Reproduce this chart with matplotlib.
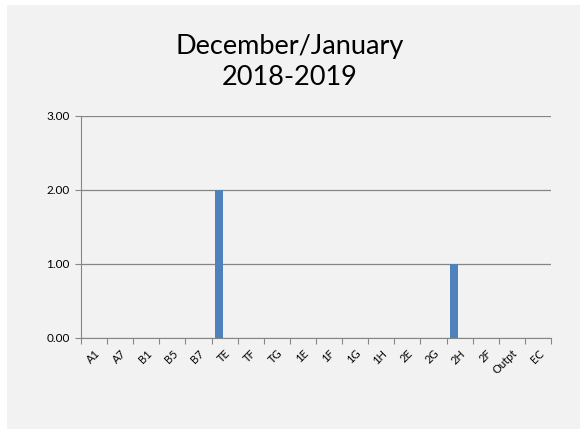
import matplotlib.pyplot as plt
import numpy as np
from matplotlib.patches import Rectangle

categories = ["A1", "A7", "B1", "B5", "B7", "TE", "TF", "TG", "1E", "1F",
              "1G", "1H", "2E", "2G", "2H", "2F", "Outpt", "EC"]
values = [0, 0, 0, 0, 0, 2, 0, 0, 0, 0, 0, 0, 0, 0, 1, 0, 0, 0]
yticks = [0, 1, 2, 3]

plt.rcParams["font.family"] = ["Lato", "DejaVu Sans"]

fig = plt.figure(figsize=(5.8, 4.29), dpi=100)
fig.patch.set_facecolor("white")
fig.patches.append(Rectangle((7 / 580, 0), 1, 1 - 5 / 429, transform=fig.transFigure,
                             facecolor="#f2f2f2", edgecolor="none", zorder=-10))

ax = fig.add_axes([81 / 580, 1 - 338 / 429, (551 - 81) / 580, (338 - 116) / 429])
ax.set_facecolor("none")

x = np.arange(len(categories))
ax.bar(x - 0.23, values, width=0.3, color="#4f81bd", zorder=3)

ax.set_xlim(-0.5, len(categories) - 0.5)
ax.set_ylim(0, 3)
ax.set_yticks(yticks)
ax.set_yticklabels([f"{v:.2f}" for v in yticks], fontsize=8.5)
ax.set_xticks(np.arange(len(categories) + 1) - 0.5, minor=False)
ax.set_xticklabels([])
ax.set_xticks(x, minor=True)
ax.set_xticklabels(categories, minor=True, rotation=45, ha="right",
                   rotation_mode="anchor", fontsize=8)
ax.tick_params(axis="x", which="minor", length=0, pad=7)
ax.tick_params(axis="x", which="major", length=4, color="#868686", direction="out")
ax.tick_params(axis="y", length=4, color="#868686", direction="out", pad=4)
ax.grid(axis="y", color="#868686", lw=0.9, zorder=1)
for side in ["top", "right"]:
    ax.spines[side].set_visible(False)
for side in ["left", "bottom"]:
    ax.spines[side].set_color("#868686")

fig.text(0.5, 1 - 62 / 429, "December/January\n2018-2019", ha="center", va="center",
         fontsize=19.5, linespacing=1.3)

fig.savefig("out.png", dpi=100)
